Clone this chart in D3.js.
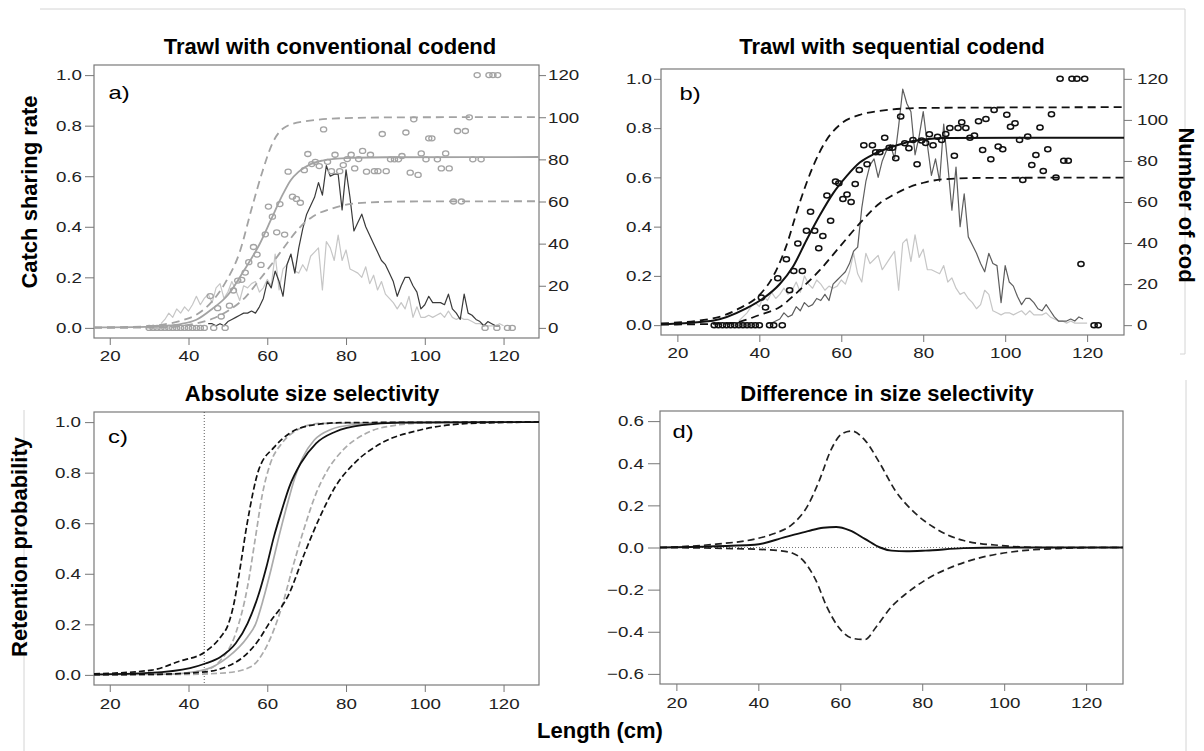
<!DOCTYPE html>
<html>
<head>
<meta charset="utf-8">
<script src="https://cdn.jsdelivr.net/npm/d3@7"></script>
<style>
	body { margin: 0; background: #fff; }
	svg { display: block; }
	text { font-family: Arial, "Liberation Sans", sans-serif; }
</style>
</head>
<body>
<svg id="fig" width="1204" height="751"></svg>
<script>
// ---- axis ticks ----
var lengthTicks = [20, 40, 60, 80, 100, 120];
var rateTicks = [0, 0.2, 0.4, 0.6, 0.8, 1.0];
var codTicks = [0, 20, 40, 60, 80, 100, 120];
var diffTicks = [-0.6, -0.4, -0.2, 0, 0.2, 0.4, 0.6];
var mlsLength = 44;

// ---- a) conventional codend: numbers of cod per length class ----
var convDarkStart = 45;
var convDark = [2,2,1,2,1,3,4,5,6,7, 7,8,7,10,14,22,19,27,22,15, 30,35,26,38,47,54,58,62,69,63,
	77,72,73,73,56,75,62,46,50,54, 48,44,40,36,32,30,26,22,15,20, 24,24,20,17,9,11,15,12,12,12,
	11,16,9,7,4,16,7,6,4,3, 1,3,2,1,1];
var convLightStart = 33;
var convLight = [2,4,7,5,9,7,10,8,11,15, 11,14,16,12,19,21,14,17,22,18, 13,20,19,21,22,17,19,23,20,35,
	18,28,30,35,27,26,30,27,34,36, 38,18,41,38,32,44,32,37,28,27, 26,24,29,21,25,18,22,16,14,12,
	9,12,9,15,5,10,5,5,6,5, 6,7,5,8,5,4,5,4,4,3, 2,2,1,1,1,1,2,1];

// a) observed catch sharing rate [length, rate]
var convRate = [[30,0],[31,0],[32,0],[33,0],[34,0],[35,0],[36,0],[37,0],[38,0],[39,0],[40,0],[41,0],[42,0],[43,0],[44,0],
	[45.5,0.126],[46.4,0],[47.4,0.078],[48.3,0.045],[49.3,0],[50.4,0.088],[51.4,0.148],[52.5,0.187],[53.5,0.19],[54.4,0.219],
	[55.3,0.26],[56.5,0.32],[57.4,0.29],[58.4,0.249],[59.5,0.37],[60.3,0.48],[61.3,0.44],[62.4,0.378],[63.2,0.49],[64.4,0.369],
	[65.3,0.618],[66.4,0.519],[67.4,0.51],[68.4,0.495],[69.4,0.624],[70.3,0.688],[71.3,0.648],[72.2,0.657],[73.2,0.64],[74.3,0.785],
	[75.3,0.657],[76.3,0.62],[77.2,0.685],[78.4,0.62],[79.3,0.644],[80.3,0.668],[81.3,0.685],[82.2,0.631],[83.2,0.668],[84.2,0.70],
	[85.2,0.618],[86.2,0.685],[87.2,0.62],[88.1,0.62],[89.2,0.767],[90.2,0.62],[91.3,0.667],[92.3,0.667],[93.3,0.667],[94.2,0.68],
	[95.2,0.773],[96.3,0.614],[97.2,0.825],[98.3,0.605],[99.1,0.69],[100.3,0.667],[101,0.75],[101.8,0.75],[103.2,0.667],[104.2,0.631],
	[105.3,0.69],[106.2,0.631],[107.3,0.5],[108.3,0.779],[109.3,0.5],[110.3,0.779],[111.3,0.833],[112.2,0.667],[113.3,1],[114.3,0.667],
	[115.3,0],[116.3,1],[117.3,1],[118.5,1],[118.3,0],[121,0],[122.2,0]];

// a) fitted catch sharing curve and confidence band
var convFit = [[16,0.002],[29,0.004],[34,0.008],[38,0.015],[42,0.032],[46,0.075],[50,0.13],[54,0.225],[58,0.33],[61,0.43],
	[64,0.53],[66,0.585],[68,0.618],[71,0.648],[74,0.662],[77,0.669],[82,0.673],[90,0.675],[129,0.676]];
var convUpper = [[16,0.002],[28,0.005],[33,0.012],[38,0.028],[42,0.052],[46,0.105],[49.5,0.183],[53,0.3],[56,0.47],[58.8,0.62],
	[61.3,0.73],[64.7,0.796],[69.8,0.818],[80,0.83],[95,0.833],[129,0.834]];
var convLower = [[16,0],[34,0.002],[40,0.012],[46,0.036],[50.4,0.071],[54.6,0.124],[58,0.19],[61.3,0.256],[64.7,0.328],[68.1,0.395],
	[71.5,0.44],[76.6,0.473],[82.5,0.493],[95,0.5],[129,0.501]];

// ---- b) sequential codend ----
var seqDarkStart = 42;
var seqDark = [1,1,2,3,6,4,5,9,7,11, 9,10,13,12,15,12,20,22,24,26, 30,36,38,57,70,78,81,72,80,85,
	88,81,97,115,108,104,83,92,104,88, 73,81,70,98,78,56,77,48,64,43, 39,35,30,26,35,30,29,11,29,21,
	19,14,10,13,13,11,8,7,10,7, 4,2,2,2,3,2,4,3];
var seqLightStart = 35;
var seqLight = [2,4,6,9,11,9,14,12,16,13, 15,18,15,17,21,16,24,20,18,22, 20,17,19,18,19,22,20,26,35,25,
	21,35,30,32,34,27,30,33,36,17, 40,42,31,44,33,37,27,27,26,25, 29,21,23,18,15,16,13,11,8,10,
	17,15,7,6,5,6,6,5,6,7, 5,7,5,5,5,6,4,3,2,2, 1,2,1,1,1,1];

var seqRate = [[29,0],[30,0],[31,0],[32,0],[33,0],[34,0],[35,0],[36,0],[37,0],[38,0],[39,0],[40,0],[42.5,0],[43.5,0],[45.6,0],
	[40.5,0.112],[41.5,0.072],[44.5,0.19],[46.6,0.268],[47.4,0.142],[48.4,0.22],[49.4,0.332],[50.5,0.22],[51.5,0.383],[52.5,0.46],
	[53.5,0.383],[54.5,0.312],[55.5,0.362],[56.5,0.526],[57.4,0.424],[58.6,0.583],[59.4,0.576],[60.4,0.512],[61.4,0.53],[62.4,0.50],
	[63.4,0.573],[64.4,0.63],[65.5,0.73],[66.3,0.653],[67.6,0.73],[68.4,0.702],[69.4,0.702],[70.6,0.761],[71.7,0.72],[72.5,0.72],
	[73.3,0.678],[74.5,0.847],[75.5,0.739],[76.5,0.718],[77.5,0.752],[78.5,0.653],[79.6,0.75],[80.6,0.74],[81.5,0.775],[82.4,0.73],
	[83.5,0.765],[84.5,0.752],[85.5,0.776],[86.5,0.80],[87.6,0.688],[88.5,0.80],[89.4,0.824],[90.4,0.80],[91.4,0.761],[92.5,0.77],
	[93.5,0.828],[94.5,0.711],[95.3,0.837],[96.5,0.674],[97.3,0.874],[98.3,0.725],[99.4,0.714],[100.4,0.854],[101.3,0.806],[102.4,0.82],
	[103.5,0.752],[104.3,0.589],[105.5,0.766],[106.5,0.65],[107.5,0.691],[108.5,0.802],[109.3,0.626],[110.4,0.714],[111.3,0.856],[112.4,0.599],
	[113.4,1],[114.3,0.667],[115.4,0.667],[116.3,1],[117.5,1],[119.4,1],[118.5,0.248],[121.7,0],[122.7,0]];

var seqFit = [[16,0.004],[28.6,0.018],[36.8,0.068],[40.9,0.108],[45,0.167],[48.2,0.237],[51.5,0.345],[54.8,0.447],[58,0.535],
	[61.3,0.605],[64.5,0.66],[68,0.695],[72.6,0.725],[76.7,0.745],[80.7,0.755],[86,0.76],[129,0.761]];
var seqUpper = [[16,0.007],[28.6,0.027],[35.1,0.068],[40,0.122],[43.3,0.196],[46.5,0.318],[49.8,0.495],[53.1,0.644],[56.4,0.752],
	[59.6,0.813],[64.5,0.854],[69.4,0.87],[80,0.882],[129,0.885]];
var seqLower = [[16,0.002],[32.7,0.007],[40,0.041],[45,0.074],[49.8,0.142],[54.8,0.224],[59.6,0.318],[64.5,0.413],[69.4,0.495],
	[72.6,0.528],[76.7,0.561],[80.7,0.581],[84.8,0.592],[95,0.598],[129,0.599]];

// ---- c) absolute size selectivity (retention probability) ----
var selSeq = [[16,0.002],[30,0.008],[40.4,0.027],[44.3,0.045],[48.2,0.072],[52,0.125],[55,0.204],[57.9,0.323],[59.8,0.428],
	[61.7,0.547],[63.7,0.652],[65.6,0.744],[68.5,0.837],[72.4,0.916],[77.3,0.962],[84.1,0.988],[93.8,0.998],[129,1]];
var selSeqUpper = [[16,0.004],[30.7,0.019],[37.5,0.053],[44.3,0.092],[48.2,0.151],[50.1,0.2],[51.5,0.28],[52.8,0.394],[54.9,0.6],
	[57.8,0.81],[61.7,0.9],[65.6,0.955],[71.4,0.988],[79.2,0.998],[129,1]];
var selSeqLower = [[16,0.001],[30,0.002],[44.3,0.012],[50,0.035],[54,0.072],[57.9,0.14],[60.3,0.2],[65.6,0.323],[69.5,0.482],
	[73.4,0.626],[77.3,0.745],[82.1,0.837],[88.9,0.916],[98.6,0.968],[108.3,0.992],[118,0.998],[129,1]];
var selConv = [[16,0.001],[35,0.003],[44,0.02],[50,0.07],[55,0.15],[57,0.2],[59,0.3],[61,0.42],[63,0.55],[65,0.67],
	[67,0.78],[69,0.86],[72,0.93],[76,0.97],[82,0.99],[92,0.999],[129,1]];
var selConvUpper = [[16,0.001],[35,0.004],[44.3,0.019],[48.2,0.059],[52,0.165],[55,0.35],[56.9,0.534],[58.8,0.718],[60.8,0.837],
	[63.7,0.916],[67.5,0.968],[73.4,0.995],[129,1]];
var selConvLower = [[16,0],[40,0.002],[50,0.009],[55.8,0.032],[59.8,0.112],[63.7,0.27],[66.5,0.428],[69.5,0.586],[72.4,0.718],
	[75.3,0.81],[79.2,0.889],[85,0.955],[92.8,0.988],[100.5,0.997],[129,1]];

// ---- d) difference in size selectivity ----
var diffFit = [[16,0],[39.1,0.013],[46.5,0.049],[52.1,0.078],[55.8,0.094],[59,0.097],[62.3,0.081],[66,0.041],[69.7,0],
	[72.5,-0.015],[76.2,-0.018],[80.8,-0.015],[90.1,-0.003],[99.4,0],[129,0]];
var diffUpper = [[16,0],[29.7,0.016],[39.1,0.04],[43.7,0.065],[48.4,0.112],[52.1,0.2],[54.9,0.319],[57.7,0.462],[60.4,0.54],
	[62.8,0.553],[66,0.51],[69.7,0.398],[73.4,0.271],[78,0.168],[82.7,0.097],[90.1,0.033],[99.4,0.009],[108.7,0],[129,0]];
var diffLower = [[16,0],[39.1,-0.008],[45,-0.015],[48.4,-0.027],[51.2,-0.067],[54,-0.154],[56.7,-0.281],[59.5,-0.376],
	[63.2,-0.432],[66,-0.437],[68.8,-0.376],[72.5,-0.281],[76.2,-0.217],[80.8,-0.154],[87.3,-0.092],[94.7,-0.046],
	[104,-0.016],[113.3,-0.005],[122.6,0],[129,0]];

// R graphics in the figure are stretched sideways
var SX = 1.25;
var svg = d3.select("#fig");

function countSeries(start, counts) {
	return counts.map(function(c, i) { return [start + i, c]; });
}

function stretchText(sel, dx, anchor) {
	sel.selectAll("text")
		.attr("transform", "scale(" + SX + ",1)")
		.attr("x", dx / SX)
		.attr("text-anchor", anchor);
}

function makePanel(box, yDomain, yTicks, yFormat, opt) {
	var x = d3.scaleLinear().domain([16, 129]).range([box.left, box.right]);
	var y = d3.scaleLinear().domain(yDomain).range([box.bottom, box.top]);
	var g = svg.append("g");

	var bottom = g.append("g")
		.attr("transform", "translate(0," + box.bottom + ")")
		.call(d3.axisBottom(x).tickValues(lengthTicks).tickSize(7).tickPadding(opt.bottomPad));
	var left = g.append("g")
		.attr("transform", "translate(" + box.left + ",0)")
		.call(d3.axisLeft(y).tickValues(yTicks).tickFormat(yFormat).tickSize(opt.leftTick));
	stretchText(left, -opt.leftGap, "end");
	stretchText(bottom, 0, "middle");

	g.selectAll("g").attr("font-size", 15).attr("font-family", "Arial, 'Liberation Sans', sans-serif")
		.attr("color", "#777");
	g.selectAll(".domain").remove();
	g.selectAll("text").attr("fill", "#222");

	g.append("rect")
		.attr("x", box.left).attr("y", box.top)
		.attr("width", box.right - box.left).attr("height", box.bottom - box.top)
		.attr("fill", "none").attr("stroke", "#7a7a7a").attr("stroke-width", 1.2);

	var clip = "clip" + Math.round(box.left) + "_" + Math.round(box.top);
	svg.append("clipPath").attr("id", clip).append("rect")
		.attr("x", box.left).attr("y", box.top)
		.attr("width", box.right - box.left).attr("height", box.bottom - box.top);
	var plot = g.append("g").attr("clip-path", "url(#" + clip + ")");
	return {x: x, y: y, g: g, plot: plot};
}

function rightAxis(p, box, scale, tick, gap) {
	var right = p.g.append("g")
		.attr("transform", "translate(" + box.right + ",0)")
		.call(d3.axisRight(scale).tickValues(codTicks).tickSize(tick));
	right.select(".domain").remove();
	right.attr("font-size", 15).attr("font-family", "Arial, 'Liberation Sans', sans-serif").attr("color", "#777");
	stretchText(right, gap, "start");
	right.selectAll("text").attr("fill", "#222");
}

function drawLine(p, yScale, data, color, width, dash, smooth) {
	var line = d3.line()
		.x(function(d) { return p.x(d[0]); })
		.y(function(d) { return yScale(d[1]); })
		.curve(smooth ? d3.curveMonotoneX : d3.curveLinear);
	p.plot.append("path")
		.attr("d", line(data))
		.attr("fill", "none")
		.attr("stroke", color)
		.attr("stroke-width", width)
		.attr("stroke-dasharray", dash || null)
		.attr("stroke-linejoin", "round");
}

function drawPoints(p, data, color, width) {
	p.plot.selectAll(null).data(data).enter().append("ellipse")
		.attr("cx", function(d) { return p.x(d[0]); })
		.attr("cy", function(d) { return p.y(d[1]); })
		.attr("rx", 3.1).attr("ry", 2.5)
		.attr("fill", "none").attr("stroke", color).attr("stroke-width", width);
}

function rText(x, y, str, size, weight, sx) {
	svg.append("text")
		.attr("transform", "translate(" + x + "," + y + ") scale(" + (sx || 1) + ",1)")
		.attr("font-size", size).attr("font-weight", weight || "normal")
		.attr("text-anchor", "middle").attr("fill", "#000").text(str);
}

function vText(x, y, angle, str) {
	svg.append("text")
		.attr("transform", "translate(" + x + "," + y + ") rotate(" + angle + ")")
		.attr("font-size", 22).attr("font-weight", "bold")
		.attr("text-anchor", "middle").attr("fill", "#000").text(str);
}

var fmt1 = d3.format(".1f");

// ---------- panel a ----------
function renderConventional() {
	var box = {left: 94, right: 539, top: 65, bottom: 338};
	var p = makePanel(box, [-0.04, 1.04], rateTicks, fmt1, {leftTick: 9, leftGap: 12, bottomPad: 5});
	var yCount = d3.scaleLinear().domain([-4.8, 124.8]).range([box.bottom, box.top]);
	rightAxis(p, box, yCount, 7, 9);

	drawLine(p, yCount, countSeries(convLightStart, convLight), "#c6c6c6", 1.2);
	drawLine(p, yCount, countSeries(convDarkStart, convDark), "#3a3a3a", 1.2);
	drawLine(p, p.y, convUpper, "#a3a3a3", 1.8, "8,5", true);
	drawLine(p, p.y, convLower, "#a3a3a3", 1.8, "8,5", true);
	drawLine(p, p.y, convFit, "#a3a3a3", 1.8, null, true);
	drawPoints(p, convRate, "#a3a3a3", 1.3);
	rText(119, 99, "a)", 19, "normal", 1.25);
}

// ---------- panel b ----------
function renderSequential() {
	var box = {left: 661, right: 1124, top: 69, bottom: 335};
	var p = makePanel(box, [-0.04, 1.04], rateTicks, fmt1, {leftTick: 7, leftGap: 9, bottomPad: 5});
	var yCount = d3.scaleLinear().domain([-4.8, 124.8]).range([box.bottom, box.top]);
	rightAxis(p, box, yCount, 8, 13);

	drawLine(p, yCount, countSeries(seqLightStart, seqLight), "#c6c6c6", 1.2);
	drawLine(p, yCount, countSeries(seqDarkStart, seqDark), "#5e5e5e", 1.2);
	drawLine(p, p.y, seqUpper, "#111", 1.8, "8,5", true);
	drawLine(p, p.y, seqLower, "#111", 1.8, "8,5", true);
	drawLine(p, p.y, seqFit, "#111", 2, null, true);
	drawPoints(p, seqRate, "#111", 1.5);
	rText(690, 100, "b)", 19, "normal", 1.25);
}

// ---------- panel c ----------
function renderSelectivity() {
	var box = {left: 94, right: 539, top: 412, bottom: 685};
	var p = makePanel(box, [-0.04, 1.04], rateTicks, fmt1, {leftTick: 9, leftGap: 13, bottomPad: 6});

	p.plot.append("line")
		.attr("x1", p.x(mlsLength)).attr("x2", p.x(mlsLength))
		.attr("y1", box.top).attr("y2", box.bottom)
		.attr("stroke", "#333").attr("stroke-width", 0.8).attr("stroke-dasharray", "1,2");

	drawLine(p, p.y, selConvUpper, "#ababab", 1.7, "6,3", true);
	drawLine(p, p.y, selConvLower, "#ababab", 1.7, "6,3", true);
	drawLine(p, p.y, selConv, "#ababab", 1.7, null, true);
	drawLine(p, p.y, selSeqUpper, "#111", 1.7, "6,3", true);
	drawLine(p, p.y, selSeqLower, "#111", 1.7, "6,3", true);
	drawLine(p, p.y, selSeq, "#111", 1.8, null, true);
	rText(118, 443, "c)", 19, "normal", 1.25);
}

// ---------- panel d ----------
function renderDifference() {
	var box = {left: 660, right: 1123, top: 411, bottom: 684};
	var p = makePanel(box, [-0.648, 0.648], diffTicks, fmt1, {leftTick: 12, leftGap: 16, bottomPad: 6});

	p.plot.append("line")
		.attr("x1", box.left).attr("x2", box.right)
		.attr("y1", p.y(0)).attr("y2", p.y(0))
		.attr("stroke", "#555").attr("stroke-width", 0.8).attr("stroke-dasharray", "1,2");

	drawLine(p, p.y, diffUpper, "#222", 1.7, "7,4", true);
	drawLine(p, p.y, diffLower, "#222", 1.7, "7,4", true);
	drawLine(p, p.y, diffFit, "#111", 1.9, null, true);
	rText(683, 438, "d)", 19, "normal", 1.25);
}

// light frame lines left over from the figure composition
function renderFrames() {
	var frames = [[40, 9, 1185, 9], [1185, 9, 1185, 354], [1185, 354, 1180, 354], [24, 410, 24, 751], [1186, 380, 1186, 751]];
	svg.selectAll(null).data(frames).enter().append("line")
		.attr("x1", function(d) { return d[0]; }).attr("y1", function(d) { return d[1]; })
		.attr("x2", function(d) { return d[2]; }).attr("y2", function(d) { return d[3]; })
		.attr("stroke", "#d4d4d4").attr("stroke-width", 1);
}

renderFrames();
renderConventional();
renderSequential();
renderSelectivity();
renderDifference();

rText(330, 54, "Trawl with conventional codend", 22, "bold");
rText(892, 54, "Trawl with sequential codend", 22, "bold");
rText(312, 401, "Absolute size selectivity", 22, "bold");
rText(887, 401, "Difference in size selectivity", 22, "bold");
rText(600, 738, "Length (cm)", 22, "bold");
vText(37, 192, -90, "Catch sharing rate");
vText(27, 547, -90, "Retention probability");
vText(1179, 205, 90, "Number of cod");
</script>
</body>
</html>
